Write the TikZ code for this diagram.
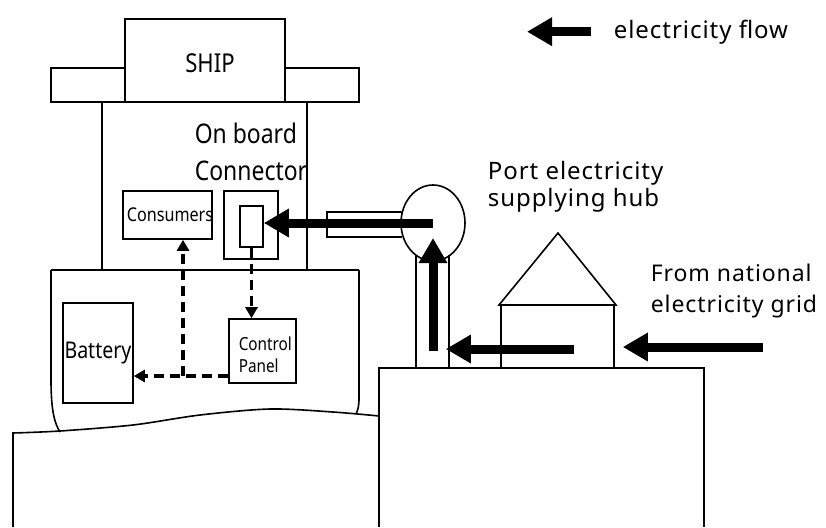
\documentclass[tikz,border=0pt]{standalone}
\usepackage{fontspec}
\setmainfont{Noto Sans}
\newfontfamily\narrowfont[FakeStretch=0.85]{Noto Sans}
\newfontfamily\widefont[LetterSpace=4]{Noto Sans}
\usetikzlibrary{arrows.meta,positioning,shapes.geometric}

\begin{document}
\begin{tikzpicture}[x=1pt,y=-1pt,
line width=1.6pt,
box/.style={draw,rectangle,inner sep=0pt},
lbl/.style={inner sep=0pt,align=left},
flow/.style={line width=9pt,-{Triangle[length=25pt,width=27pt]}},
sig/.style={line width=3.5pt,dash pattern=on 10pt off 6pt,
-{Triangle[length=11pt,width=12pt]}}
]
\useasboundingbox (0,0) rectangle (826,527);

% ship
\node[box,minimum width=160pt,minimum height=83pt] (shiptop) at (205,60.5) {};
\node[box,minimum width=74pt,minimum height=34pt] (wingl) at (88,85) {};
\node[box,minimum width=74pt,minimum height=34pt] (wingr) at (322,85) {};
\node[lbl,anchor=base,font=\narrowfont\fontsize{26}{30}\selectfont] (shiplbl) at (210,72) {SHIP};
\draw (102,102) -- (102,270) (307,102) -- (307,270);
\draw (51,270) -- (359,270);
\draw (51,270) -- (51,380) .. controls (51,412) and (55,424) .. (60,432);
\draw (359,270) -- (359,398) .. controls (359,406) and (358,410) .. (356,414);

\node[lbl,anchor=north west,font=\narrowfont\fontsize{27}{37}\selectfont] (onboard) at (194,122) {On board\\Connector};
\node[box,minimum width=89pt,minimum height=48pt] (consumers) at (167.5,215) {};
\node[lbl,anchor=base,font=\narrowfont\fontsize{19}{23}\selectfont] at (170,221) {Consumers};
\node[box,minimum width=54pt,minimum height=68pt] (conbox) at (251,225) {};
\node[box,minimum width=23pt,minimum height=41pt] (plug) at (251.5,226.5) {};
\node[box,minimum width=67pt,minimum height=64pt] (ctrl) at (262.5,351) {};
\node[lbl,anchor=north west,font=\narrowfont\fontsize{18}{22}\selectfont] at (238,336) {Control\\Panel};
\node[box,minimum width=70pt,minimum height=100pt] (battery) at (98,353) {};
\node[lbl,anchor=base,font=\narrowfont\fontsize{23}{27}\selectfont] at (98,358) {Battery};

% sea line and quay
\draw (13,527) -- (13,433) -- plot[smooth] coordinates {(13,433) (60,431) (133,425) (200,415) (270,409) (333,412) (379,416)};
\draw (379,527) |- (704,368) -- (704,527);

% port side
\draw (402,212) -| (327,237) -- (402,237);
\node[draw,ellipse,minimum width=64pt,minimum height=76pt,inner sep=0pt] (hub) at (433,223) {};
\node[inner sep=0pt,minimum width=31pt,minimum height=112pt] (pole) at (432.5,312) {};
\draw (pole.north west) -- (pole.south west) (pole.north east) -- (pole.south east);
\node[box,minimum width=113pt,minimum height=63pt] (house) at (557.5,336.5) {};
\draw (499,305) -- (558,233) -- (616,305) -- cycle;

\node[lbl,anchor=north west,font=\widefont\fontsize{24}{27}\selectfont] (hublbl) at (487,160) {Port electricity\\supplying hub};
\node[lbl,anchor=north west,font=\widefont\fontsize{23}{31}\selectfont] (gridlbl) at (650,263) {From national\\electricity grid};
\node[lbl,anchor=base west,font=\widefont\fontsize{24}{28}\selectfont] (legend) at (613,38) {electricity flow};

% electricity flow
\coordinate (polefoot) at (433,351);
\coordinate (hubin) at (433,238);
\coordinate (housein) at (574,349);
\coordinate (gridin) at (763,347);
\draw[flow] (hub.center) -- (hub.center -| plug.east);
\draw[flow] (polefoot) -- (hubin);
\draw[flow] (housein) -- ([xshift=-3pt]pole.east |- housein);
\draw[flow] (gridin) -- ([xshift=8pt]house.east |- gridin);
\draw[flow] ([xshift=-22pt]legend.west) -- ([xshift=-86pt]legend.west);

% on board lines
\coordinate (tap) at (183,376);
\draw[sig] (plug.south) -- (plug.south |- ctrl.north);
\draw[sig] (ctrl.west |- tap) -- (battery.east |- tap);
\draw[sig] (tap) -- (tap |- consumers.south);
\end{tikzpicture}
\end{document}
